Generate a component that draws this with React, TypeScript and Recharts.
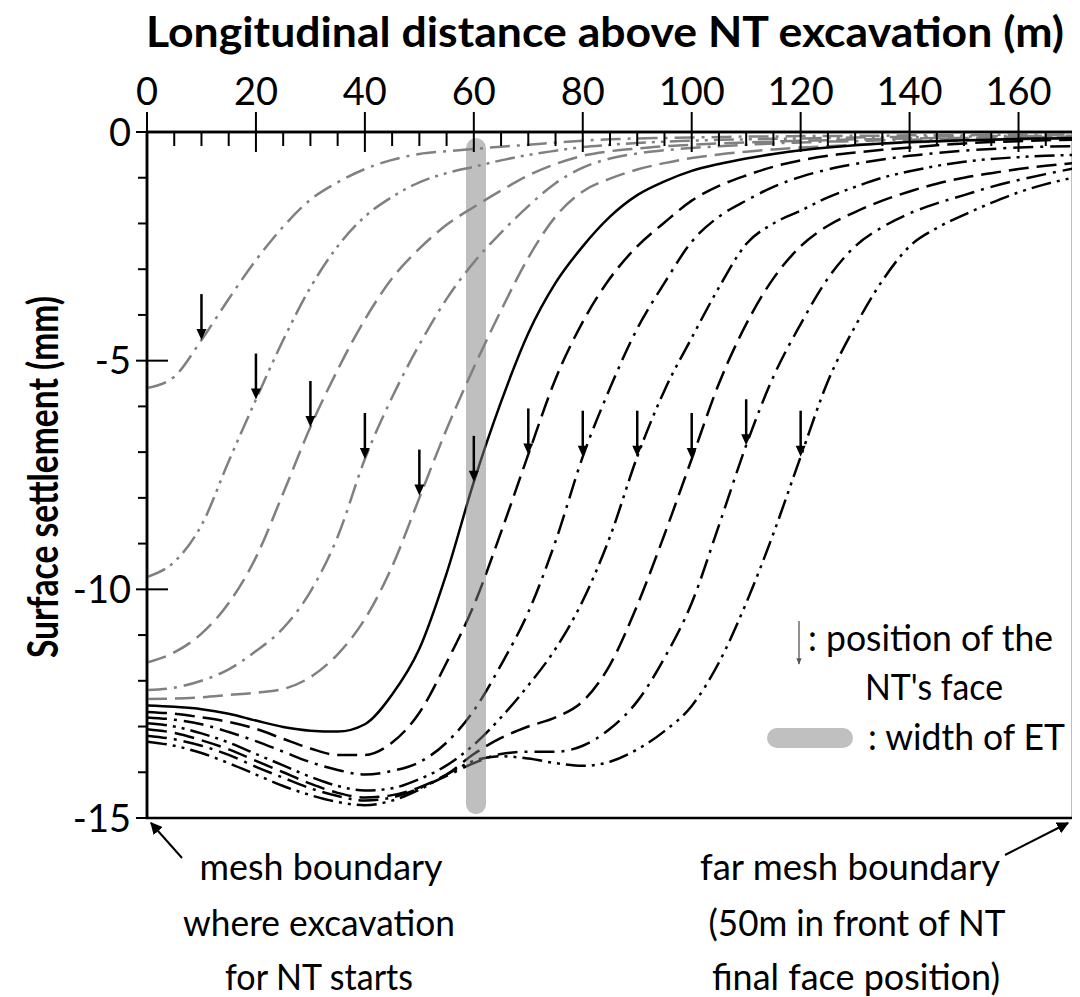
import { ComposedChart, Line, XAxis, YAxis, Scatter, ReferenceLine, ReferenceArea } from 'recharts'

// longitudinal distance (m) where the settlement was read
const distance = [0, 5, 10, 15, 20, 25, 30, 35, 40, 45, 50, 55, 60, 65, 70, 75, 80, 85, 90, 95, 100, 105, 110, 115, 120, 125, 130, 135, 140, 145, 150, 155, 160, 165, 170]

// surface settlement (mm) for each NT face position
const face10 = [-5.6, -5.35, -4.55, -3.65, -2.8, -2.07, -1.48, -1.1, -0.81, -0.61, -0.48, -0.42, -0.37, -0.32, -0.28, -0.23, -0.19, -0.16, -0.14, -0.13, -0.12, -0.11, -0.1, -0.1, -0.09, -0.09, -0.08, -0.08, -0.07, -0.07, -0.07, -0.06, -0.06, -0.06, -0.05]
const face20 = [-9.73, -9.4, -8.6, -7.2, -5.85, -4.55, -3.4, -2.5, -1.85, -1.42, -1.1, -0.9, -0.76, -0.62, -0.5, -0.41, -0.33, -0.28, -0.24, -0.21, -0.19, -0.17, -0.16, -0.15, -0.14, -0.13, -0.12, -0.11, -0.11, -0.1, -0.1, -0.09, -0.09, -0.08, -0.08]
const face30 = [-11.6, -11.38, -10.97, -10.3, -9.3, -7.9, -6.45, -5.2, -4.1, -3.2, -2.55, -2.03, -1.64, -1.28, -0.95, -0.7, -0.52, -0.42, -0.36, -0.31, -0.28, -0.25, -0.23, -0.21, -0.19, -0.18, -0.16, -0.15, -0.14, -0.13, -0.13, -0.12, -0.11, -0.11, -0.1]
const face40 = [-12.2, -12.15, -12.0, -11.75, -11.35, -10.85, -10.05, -8.85, -7.15, -5.8, -4.65, -3.65, -2.85, -2.2, -1.62, -1.12, -0.78, -0.58, -0.47, -0.4, -0.35, -0.31, -0.28, -0.25, -0.23, -0.21, -0.2, -0.18, -0.17, -0.16, -0.15, -0.14, -0.14, -0.13, -0.12]
const face50 = [-12.4, -12.39, -12.36, -12.31, -12.26, -12.18, -11.92, -11.42, -10.65, -9.5, -8.0, -6.5, -5.15, -3.9, -2.75, -1.85, -1.3, -1.02, -0.82, -0.68, -0.57, -0.49, -0.43, -0.38, -0.34, -0.31, -0.28, -0.25, -0.23, -0.21, -0.19, -0.17, -0.16, -0.15, -0.14]
const face60 = [-12.54, -12.57, -12.62, -12.72, -12.87, -13.01, -13.09, -13.11, -12.95, -12.3, -11.3, -9.65, -7.65, -5.9, -4.4, -3.3, -2.5, -1.85, -1.38, -1.08, -0.85, -0.7, -0.58, -0.48, -0.4, -0.34, -0.29, -0.25, -0.22, -0.2, -0.18, -0.17, -0.15, -0.14, -0.13]
const face70 = [-12.68, -12.72, -12.8, -12.9, -13.05, -13.27, -13.48, -13.62, -13.62, -13.35, -12.7, -11.6, -10.35, -8.75, -7.05, -5.4, -4.15, -3.2, -2.5, -1.98, -1.5, -1.18, -0.95, -0.76, -0.62, -0.52, -0.45, -0.39, -0.34, -0.29, -0.25, -0.22, -0.2, -0.18, -0.17]
const face80 = [-12.8, -12.85, -12.95, -13.12, -13.32, -13.55, -13.78, -13.95, -14.05, -13.97, -13.78, -13.35, -12.65, -11.65, -10.5, -8.95, -7.1, -5.6, -4.3, -3.3, -2.4, -1.85, -1.5, -1.2, -0.98, -0.82, -0.7, -0.6, -0.52, -0.46, -0.41, -0.37, -0.34, -0.32, -0.31]
const face90 = [-12.93, -13.0, -13.15, -13.35, -13.6, -13.85, -14.1, -14.3, -14.4, -14.35, -14.15, -13.85, -13.4, -12.8, -12.1, -11.3, -10.25, -8.85, -7.1, -5.65, -4.5, -3.4, -2.45, -2.0, -1.72, -1.43, -1.2, -1.0, -0.86, -0.74, -0.65, -0.59, -0.55, -0.52, -0.5]
const face100 = [-13.06, -13.14, -13.3, -13.5, -13.75, -14.0, -14.25, -14.45, -14.55, -14.5, -14.33, -14.05, -13.6, -13.25, -13.0, -12.8, -12.45, -11.65, -10.35, -8.8, -7.15, -5.5, -4.2, -3.2, -2.5, -2.05, -1.75, -1.5, -1.3, -1.13, -1.0, -0.9, -0.81, -0.74, -0.68]
const face110 = [-13.2, -13.28, -13.42, -13.62, -13.88, -14.12, -14.35, -14.52, -14.62, -14.55, -14.35, -14.08, -13.8, -13.6, -13.55, -13.55, -13.42, -13.05, -12.45, -11.5, -10.3, -8.6, -6.85, -5.35, -4.2, -3.2, -2.5, -2.08, -1.78, -1.56, -1.38, -1.2, -1.05, -0.92, -0.8]
const face120 = [-13.33, -13.42, -13.58, -13.8, -14.05, -14.3, -14.5, -14.65, -14.72, -14.62, -14.38, -14.05, -13.75, -13.65, -13.7, -13.8, -13.86, -13.77, -13.5, -13.1, -12.55, -11.6, -10.3, -8.78, -7.1, -5.45, -4.25, -3.25, -2.5, -2.1, -1.81, -1.55, -1.32, -1.14, -1.0]

// NT face positions (arrows) and where they touch their curve
const facePositions = [10, 20, 30, 40, 50, 60, 70, 80, 90, 100, 110, 120]
const faceTips = [-4.55, -5.85, -6.45, -7.15, -7.95, -7.65, -7.05, -7.1, -7.1, -7.15, -6.85, -7.1]

// ET centre line and its vertical extent
const etPosition = 60.4
const etExtent = [-0.35, -14.7]

const xTicks = [0, 5, 10, 15, 20, 25, 30, 35, 40, 45, 50, 55, 60, 65, 70, 75, 80, 85, 90, 95, 100, 105, 110, 115, 120, 125, 130, 135, 140, 145, 150, 155, 160, 165]
const yTicks = [-15, -14, -13, -12, -11, -10, -9, -8, -7, -6, -5, -4, -3, -2, -1, 0]

const GRAY = '#808080'
const DASH = '20 8'
const DASH_DOT = '20 7 3 7'
const DASH_DOT_DOT = '20 6 3 6 3 6'

const curves = [
  { name: 'face 10', values: face10, color: GRAY, dash: DASH_DOT },
  { name: 'face 20', values: face20, color: GRAY, dash: DASH_DOT_DOT },
  { name: 'face 30', values: face30, color: GRAY, dash: DASH },
  { name: 'face 40', values: face40, color: GRAY, dash: DASH_DOT },
  { name: 'face 50', values: face50, color: GRAY, dash: DASH },
  { name: 'face 60', values: face60, color: '#000', dash: undefined },
  { name: 'face 70', values: face70, color: '#000', dash: DASH },
  { name: 'face 80', values: face80, color: '#000', dash: DASH_DOT },
  { name: 'face 90', values: face90, color: '#000', dash: DASH_DOT_DOT },
  { name: 'face 100', values: face100, color: '#000', dash: DASH },
  { name: 'face 110', values: face110, color: '#000', dash: DASH_DOT },
  { name: 'face 120', values: face120, color: '#000', dash: DASH_DOT_DOT },
]

const arrowData = facePositions.map((x, i) => ({ x, y: faceTips[i] }))

const FONT = 'Lato, "Open Sans", sans-serif'

function TopTick(props: any) {
  const { x, y, payload } = props
  if (payload.value % 20 !== 0) {
    return <line x1={x} x2={x} y1={y} y2={y + 14} stroke="#000" strokeWidth={2} />
  }
  return (
    <g>
      <line x1={x} x2={x} y1={y - 20} y2={y + 20} stroke="#000" strokeWidth={2} />
      <text x={x} y={y - 27} textAnchor="middle" fontSize={38} fontFamily={FONT} fill="#000">
        {payload.value}
      </text>
    </g>
  )
}

function LeftTick(props: any) {
  const { x, y, payload } = props
  if (payload.value % 5 !== 0) {
    return <line x1={x - 9} x2={x} y1={y} y2={y} stroke="#000" strokeWidth={2} />
  }
  return (
    <g>
      <line x1={x - 11} x2={x + 21} y1={y} y2={y} stroke="#000" strokeWidth={2} />
      <text x={x - 16} y={y} dy="0.36em" textAnchor="end" fontSize={38} fontFamily={FONT} fill="#000">
        {payload.value}
      </text>
    </g>
  )
}

function FaceArrow(props: any) {
  const { cx, cy } = props
  return (
    <g>
      <line x1={cx} x2={cx} y1={cy - 46} y2={cy - 8} stroke="#000" strokeWidth={2.5} />
      <polygon points={`${cx - 5},${cy - 11} ${cx + 5},${cy - 11} ${cx},${cy}`} fill="#000" />
    </g>
  )
}

export default function App() {
  return (
    <div style={{ position: 'relative', width: 1072, height: 989 }}>
      <ComposedChart width={1072} height={989} margin={{ top: 64, right: 7, bottom: 179, left: 59 }}>
        <XAxis
          type="number"
          dataKey="x"
          orientation="top"
          domain={[0, 170]}
          ticks={xTicks}
          interval={0}
          height={60}
          tickSize={0}
          tickMargin={0}
          tickLine={false}
          axisLine={{ stroke: '#000', strokeWidth: 2.5 }}
          tick={(p: any) => <TopTick {...p} />}
          allowDataOverflow
        />
        <YAxis
          type="number"
          dataKey="y"
          domain={[-15, 0]}
          ticks={yTicks}
          interval={0}
          width={80}
          tickSize={0}
          tickMargin={0}
          tickLine={false}
          axisLine={{ stroke: '#000', strokeWidth: 2.5 }}
          tick={(p: any) => <LeftTick {...p} />}
          allowDataOverflow
        />
        <ReferenceArea x1={0} x2={170} y1={-15} y2={0} fill="none" fillOpacity={0} stroke="#000" strokeWidth={2.5} />
        {curves.map((c) => (
          <Line
            key={c.name}
            name={c.name}
            data={distance.map((x, i) => ({ x, y: c.values[i] }))}
            dataKey="y"
            type="monotone"
            stroke={c.color}
            strokeWidth={2.5}
            strokeDasharray={c.dash}
            dot={false}
            activeDot={false}
            isAnimationActive={false}
          />
        ))}
        <Scatter data={arrowData} dataKey="y" shape={(p: any) => <FaceArrow {...p} />} isAnimationActive={false} />
        <ReferenceLine
          segment={[{ x: etPosition, y: etExtent[0] }, { x: etPosition, y: etExtent[1] }]}
          stroke="#808080"
          strokeOpacity={0.5}
          strokeWidth={20}
          strokeLinecap="round"
        />
      </ComposedChart>

      <svg width={1080} height={997} style={{ position: 'absolute', left: -8, top: -8, pointerEvents: 'none' }}>
        <defs>
          <marker id="head" viewBox="0 0 10 10" refX="9" refY="5" markerWidth="6" markerHeight="6" orient="auto">
            <path d="M0,0 L10,5 L0,10 z" fill="#000" />
          </marker>
          <marker id="thinHead" viewBox="0 0 10 10" refX="9" refY="5" markerWidth="5" markerHeight="5" orient="auto">
            <path d="M0,1 L10,5 L0,9 z" fill="#555" />
          </marker>
        </defs>
        <g fontFamily={FONT} fill="#000">
          <text x={605} y={47} textAnchor="middle" fontSize={42} fontWeight="bold" textLength={918} lengthAdjust="spacingAndGlyphs">
            Longitudinal distance above NT excavation (m)
          </text>
          <text transform="translate(58,477) rotate(-90)" textAnchor="middle" fontSize={42} fontWeight="bold" textLength={362} lengthAdjust="spacingAndGlyphs">
            Surface settlement (mm)
          </text>

          <line x1={182} y1={858} x2={151} y2={823} stroke="#000" strokeWidth={2} markerEnd="url(#head)" />
          <line x1={1005} y1={855} x2={1068} y2={823} stroke="#000" strokeWidth={2} markerEnd="url(#head)" />
          <g fontSize={36} textAnchor="middle">
            <text x={321} y={880} textLength={243} lengthAdjust="spacingAndGlyphs">mesh boundary</text>
            <text x={319} y={936} textLength={272} lengthAdjust="spacingAndGlyphs">where excavation</text>
            <text x={319} y={990} textLength={188} lengthAdjust="spacingAndGlyphs">for NT starts</text>
            <text x={850} y={880} textLength={300} lengthAdjust="spacingAndGlyphs">far mesh boundary</text>
            <text x={857} y={936} textLength={297} lengthAdjust="spacingAndGlyphs">(50m in front of NT</text>
            <text x={856} y={990} textLength={288} lengthAdjust="spacingAndGlyphs">final face position)</text>
          </g>

          <line x1={799} y1={621} x2={799} y2={664} stroke="#555" strokeWidth={1.3} markerEnd="url(#thinHead)" />
          <g fontSize={36}>
            <text x={808} y={651} textLength={245} lengthAdjust="spacingAndGlyphs">: position of the</text>
            <text x={865} y={700} textLength={138} lengthAdjust="spacingAndGlyphs">NT's face</text>
            <text x={868} y={750} textLength={197} lengthAdjust="spacingAndGlyphs">: width of ET</text>
          </g>
          <line x1={777} y1={738} x2={843} y2={738} stroke="#c0c0c0" strokeWidth={20} strokeLinecap="round" />
        </g>
      </svg>
    </div>
  )
}
